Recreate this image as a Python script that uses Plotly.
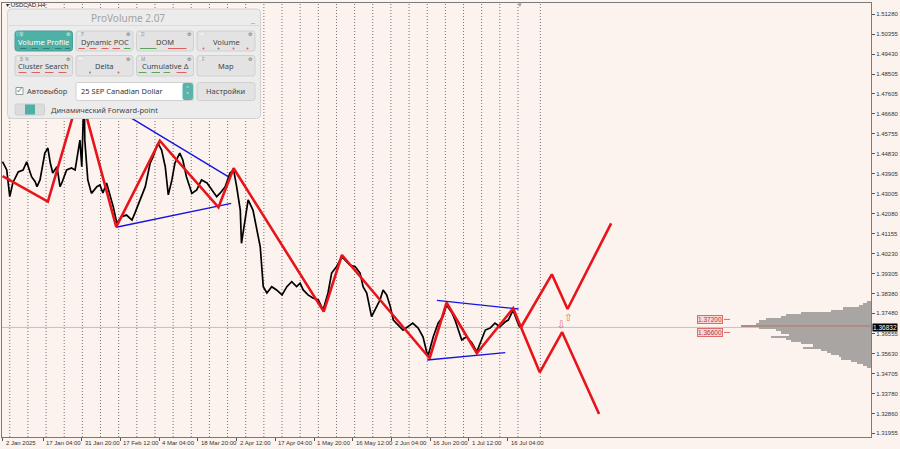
import plotly.graph_objects as go

# ---------------- data (H4 bar index since 2 Jan 2025, price) ----------------
bars = [0, 7, 12, 17, 26, 34, 40, 48, 54, 57, 62, 70, 75, 79, 83, 90, 95, 98, 106, 114, 120, 125, 128, 131, 134, 135,
        136, 141, 147, 156, 161, 166, 172, 178, 183, 189, 197, 205, 214, 219, 227, 236, 244, 249, 257, 263, 269, 274,
        280, 285, 293, 298, 304, 313, 321, 329, 338, 346, 354, 360, 368, 376, 382, 387, 393, 395, 401, 406, 414, 420,
        426, 431, 437, 445, 453, 462, 470, 478, 486, 492, 497, 505, 513, 522, 530, 538, 544, 552, 561, 566, 574, 583,
        591, 596, 602, 610, 616, 624, 629, 635, 641, 646, 654, 662, 670, 678, 687, 695, 703, 712, 720, 728, 734, 743,
        748, 753, 759, 767, 776, 784, 792, 798, 806, 814, 822, 831, 836, 844, 850, 855]
close = [1.4447, 1.4409, 1.4286, 1.4349, 1.4400, 1.4409, 1.4447, 1.4378, 1.4355, 1.4332, 1.4363, 1.4487, 1.4510,
         1.4441, 1.4395, 1.4424, 1.4332, 1.4349, 1.4409, 1.4418, 1.4409, 1.4501, 1.4547, 1.4424, 1.4639, 1.4787,
         1.4547, 1.4363, 1.4301, 1.4332, 1.4340, 1.4303, 1.4349, 1.4294, 1.4240, 1.4164, 1.4194, 1.4201, 1.4178,
         1.4211, 1.4271, 1.4332, 1.4441, 1.4470, 1.4533, 1.4501, 1.4424, 1.4294, 1.4363, 1.4441, 1.4487, 1.4455,
         1.4378, 1.4301, 1.4317, 1.4363, 1.4349, 1.4317, 1.4286, 1.4303, 1.4332, 1.4395, 1.4409, 1.4332, 1.4224,
         1.4071, 1.4178, 1.4271, 1.4224, 1.4147, 1.4055, 1.3871, 1.3842, 1.3871, 1.3856, 1.3833, 1.3871, 1.3894,
         1.3871, 1.3887, 1.3856, 1.3833, 1.3819, 1.3810, 1.3763, 1.3842, 1.3934, 1.3963, 1.4009, 1.3994, 1.3971,
         1.3963, 1.3934, 1.3871, 1.3842, 1.3733, 1.3763, 1.3810, 1.3856, 1.3833, 1.3779, 1.3717, 1.3694, 1.3671,
         1.3686, 1.3703, 1.3680, 1.3640, 1.3548, 1.3640, 1.3703, 1.3733, 1.3786, 1.3750, 1.3717, 1.3671, 1.3625,
         1.3640, 1.3611, 1.3571, 1.3625, 1.3671, 1.3680, 1.3703, 1.3686, 1.3709, 1.3717, 1.3763, 1.3717, 1.3683]

zz_bars = [0, 75, 128, 188, 260, 357, 382, 531, 561, 706, 734, 784, 844, 857]
zz_price = [1.4381, 1.4263, 1.4768, 1.4147, 1.4544, 1.4237, 1.4417, 1.3756, 1.4017, 1.3541, 1.3797, 1.3564, 1.3771, 1.3684]

up_bars = [857, 908, 934, 1006]
up_price = [1.3684, 1.3928, 1.3768, 1.4163]
dn_bars = [857, 888, 925, 986]
dn_price = [1.3684, 1.3476, 1.3661, 1.3284]

blue_lines = {
    "tri1_top": ([161, 373], [1.4736, 1.4378]),
    "tri1_bot": ([188, 378], [1.4145, 1.4255]),
    "tri2_top": ([718, 853], [1.3808, 1.3768]),
    "tri2_bot": ([702, 831], [1.3533, 1.3567]),
}

vp_price = [1.3800, 1.3790, 1.3780, 1.3770, 1.3760, 1.3750, 1.3740, 1.3730, 1.3720, 1.3710, 1.3700, 1.3690,
            1.3680, 1.3670, 1.3660, 1.3650, 1.3640, 1.3630, 1.3620, 1.3610, 1.3600, 1.3590, 1.3580, 1.3570,
            1.3560, 1.3550, 1.3540, 1.3530, 1.3520, 1.3510, 1.3500]
vp_volume = [5, 9, 14, 32, 46, 81, 98, 104, 121, 129, 132, 150, 129, 109, 104, 94, 115, 98, 92, 81, 67, 78, 58,
             51, 46, 37, 35, 23, 16, 9, 5]

y_ticks = [1.51280, 1.50355, 1.49430, 1.48505, 1.47605, 1.46680, 1.45755, 1.44830, 1.43905, 1.43005, 1.42080,
           1.41155, 1.40230, 1.39305, 1.38380, 1.37480, 1.36555, 1.35630, 1.34705, 1.33780, 1.32860, 1.31955]
x_label_bars = [0, 67, 131, 195, 259, 323, 387, 451, 515, 579, 643, 707, 771, 835]
x_labels = ["2 Jan 2025", "17 Jan 04:00", "31 Jan 20:00", "17 Feb 12:00", "4 Mar 04:00", "18 Mar 20:00",
            "2 Apr 12:00", "17 Apr 04:00", "1 May 20:00", "16 May 12:00", "2 Jun 04:00", "16 Jun 20:00",
            "1 Jul 12:00", "16 Jul 04:00"]
week_sep_bars = [12 + 30 * k for k in range(29)] + [889]

bid_price = 1.36832
level_labels = [1.37200, 1.36600]

# ---------------- layout helpers ----------------
W, H = 900, 449
ML, MR, MT, MB = 2, 29, 3, 12
PW, PH = W - ML - MR, H - MT - MB
BG = "#fdf3ee"
MTFONT = "Liberation Sans"
PVFONT = "Noto Sans"


def PX(x):
    return (x - ML) / PW


def PY(y):
    return (H - MB - y) / PH


def rrect(x0, y0, x1, y1, r):
    return (f"M{PX(x0 + r)},{PY(y0)} L{PX(x1 - r)},{PY(y0)} Q{PX(x1)},{PY(y0)} {PX(x1)},{PY(y0 + r)} "
            f"L{PX(x1)},{PY(y1 - r)} Q{PX(x1)},{PY(y1)} {PX(x1 - r)},{PY(y1)} "
            f"L{PX(x0 + r)},{PY(y1)} Q{PX(x0)},{PY(y1)} {PX(x0)},{PY(y1 - r)} "
            f"L{PX(x0)},{PY(y0 + r)} Q{PX(x0)},{PY(y0)} {PX(x0 + r)},{PY(y0)} Z")


shapes = []
annos = []


def txt(x, y, text, size, color, family=None, xanchor="center", yanchor="middle", xref="paper", yref="paper", **kw):
    annos.append(dict(x=x, y=y, xref=xref, yref=yref, text=text, showarrow=False, xanchor=xanchor,
                      yanchor=yanchor, font=dict(family=family or PVFONT, size=size, color=color), **kw))


# week separators
for b in week_sep_bars:
    shapes.append(dict(type="line", xref="x", yref="paper", x0=b, x1=b, y0=0, y1=1,
                       line=dict(color="#747474", width=1, dash="1px,2px"), layer="below"))
# bid line
shapes.append(dict(type="line", xref="paper", yref="y", x0=0, x1=1, y0=bid_price, y1=bid_price,
                   line=dict(color="#c9bfba", width=1), layer="below"))

fig = go.Figure()

# volume profile
vmax = max(vp_volume)
fig.add_trace(go.Bar(y=vp_price, x=vp_volume, orientation="h", xaxis="x2", yaxis="y", width=0.00102,
                     marker=dict(color=["#b08c86" if v == vmax else "#a9a5a2" for v in vp_volume], line=dict(width=0)),
                     hoverinfo="skip", showlegend=False))

fig.add_trace(go.Scatter(x=bars, y=close, mode="lines", line=dict(color="#000000", width=1.7), showlegend=False,
                         hoverinfo="skip"))

for name, (bx, py) in blue_lines.items():
    fig.add_trace(go.Scatter(x=bx, y=py, mode="lines", line=dict(color="#1414e0", width=1.4), showlegend=False,
                             hoverinfo="skip"))

for bx, py in [(zz_bars, zz_price), (up_bars, up_price), (dn_bars, dn_price)]:
    fig.add_trace(go.Scatter(x=bx, y=py, mode="lines", line=dict(color="#e8131b", width=2.6), showlegend=False,
                             hoverinfo="skip"))

# arrows
txt(934, 1.3729, "⇧", 10, "#e36a6a", "DejaVu Sans", xref="x", yref="y")
txt(923, 1.3697, "⇩", 10, "#e36a6a", "DejaVu Sans", xref="x", yref="y")

# level labels
for lv in level_labels:
    txt(PX(697), lv, f"{lv:.5f}", 6.5, "#b83232", MTFONT, xanchor="left", yref="y",
        bgcolor="#f8d9d6", bordercolor="#dd6b6b", borderwidth=1, borderpad=0)
    shapes.append(dict(type="line", xref="paper", yref="y", x0=PX(724), x1=PX(730), y0=lv, y1=lv,
                       line=dict(color="#dd6b6b", width=1)))

# current price label
txt(1, bid_price, "1.36832", 6.5, "#ffffff", MTFONT, xanchor="left", yref="y", xshift=1,
    bgcolor="#000000", borderpad=0)

# x labels
for b, t in zip(x_label_bars, x_labels):
    txt(b, PY(442.5), t, 6, "#333333", MTFONT, xanchor="left", xref="x", xshift=1)

# symbol title
txt(PX(4), PY(5.5), "▾ USDCAD,H4", 6, "#222222", MTFONT, xanchor="left")
txt(856, PY(4.5), "▾", 7, "#9a9a9a", MTFONT, xref="x")

# ---------------- ProVolume panel ----------------
shapes.append(dict(type="path", xref="paper", yref="paper", path=rrect(7.5, 9, 260.5, 118.5, 4),
                   fillcolor="#ececec", line=dict(color="#d2d2d2", width=1)))
shapes.append(dict(type="line", xref="paper", yref="paper", x0=PX(9), x1=PX(259), y0=PY(25.5), y1=PY(25.5),
                   line=dict(color="#dadada", width=1)))
txt(PX(128), PY(17.5), "ProVolume 2.07", 10, "#a2a2a2")
txt(PX(252.5), PY(18), "_", 9, "#a0a0a0")

buttons = [
    ("Volume Profile", 15, 72.5, 31, 51, "V"),
    ("Dynamic POC", 76, 133, 31, 51, "P"),
    ("DOM", 136.5, 193.5, 31, 51, "D"),
    ("Volume", 197, 255, 31, 51, ""),
    ("Cluster Search", 15, 72.5, 55.5, 76, "B  N"),
    ("Delta", 76, 133, 55.5, 76, ""),
    ("Cumulative Δ", 136.5, 193.5, 55.5, 76, "M"),
    ("Map", 197, 255, 55.5, 76, "F"),
]
for lbl, x0, x1, y0, y1, tag in buttons:
    active = lbl == "Volume Profile"
    shapes.append(dict(type="path", xref="paper", yref="paper", path=rrect(x0, y0, x1, y1, 2.5),
                       fillcolor="#4fb0a6" if active else "#e3e3e3",
                       line=dict(color="#46a197" if active else "#d0d0d0", width=1)))
    shapes.append(dict(type="rect", xref="paper", yref="paper", x0=PX(x0 + 1.5), x1=PX(x0 + 8), y0=PY(y0 + 5),
                       y1=PY(y0 + 1), fillcolor="#5fbbb1" if active else "#ebebeb",
                       line=dict(color="#7cc8c0" if active else "#d6d6d6", width=0.6)))
    txt(PX((x0 + x1) / 2), PY(y0 + 10.5), lbl, 7.5, "#ffffff" if active else "#454545")
    if tag:
        txt(PX(x0 + 2.5), PY(y0 + 3), tag, 4.5, "#e8f4f2" if active else "#8a8a8a", xanchor="left")
    txt(PX(x1 - 4.5), PY(y0 + 3), "⚙", 5, "#f0f0f0" if active else "#6a6a6a", "DejaVu Sans")

dash_specs = [
    (20, 26.5, 48.5, "#2f7f77"), (31.5, 38, 48.5, "#2f7f77"), (43, 49.5, 48.5, "#2f7f77"), (55, 61.5, 48.5, "#2f7f77"),
    (65, 70, 48.5, "#2f7f77"),
    (78.5, 85, 48.5, "#e06060"), (89.5, 96.5, 48.5, "#e06060"), (101.5, 108.5, 48.5, "#e06060"),
    (112.5, 120, 48.5, "#e06060"), (124, 130.5, 48.5, "#5aa55a"),
    (140, 156.5, 48.5, "#5aa55a"), (168, 186.5, 48.5, "#e06060"),
    (18.5, 26.5, 72.5, "#e06060"), (31.5, 40, 72.5, "#e06060"), (45, 53.5, 72.5, "#e06060"), (58.5, 66.5, 72.5, "#e06060"),
    (138.5, 146.5, 72.5, "#5aa55a"), (151.5, 160, 72.5, "#5aa55a"), (163.5, 170, 72.5, "#5aa55a"),
    (176.5, 186.5, 72.5, "#e06060"),
]
for x0, x1, y, c in dash_specs:
    shapes.append(dict(type="line", xref="paper", yref="paper", x0=PX(x0), x1=PX(x1), y0=PY(y), y1=PY(y),
                       line=dict(color=c, width=1)))
for x, c, y in [(203.5, "#e06060", 48.5), (218.5, "#5aa55a", 48.5), (233.5, "#e06060", 48.5), (247.5, "#e06060", 48.5),
                (90, "#5aa55a", 72.5), (118.5, "#e06060", 72.5)]:
    shapes.append(dict(type="circle", xref="paper", yref="paper", x0=PX(x - 1), x1=PX(x + 1), y0=PY(y - 1),
                       y1=PY(y + 1), fillcolor=c, line=dict(width=0)))

# checkbox
shapes.append(dict(type="rect", xref="paper", yref="paper", x0=PX(16), x1=PX(23), y0=PY(94.5), y1=PY(87.5),
                   fillcolor="#ffffff", line=dict(color="#9a9a9a", width=1)))
txt(PX(19.8), PY(89.8), "✓", 9, "#3aa79b", "DejaVu Sans")
txt(PX(25), PY(90.5), "Автовыбор", 7.5, "#454545", xanchor="left")
# dropdown
shapes.append(dict(type="path", xref="paper", yref="paper", path=rrect(76, 82.5, 193.5, 100.5, 2),
                   fillcolor="#ffffff", line=dict(color="#d0d0d0", width=1)))
shapes.append(dict(type="path", xref="paper", yref="paper", path=rrect(182.5, 83, 193, 100, 2),
                   fillcolor="#5ab4aa", line=dict(width=0)))
txt(PX(187.8), PY(88.5), "˄", 6, "#ffffff", "DejaVu Sans")
txt(PX(187.8), PY(94.5), "˅", 6, "#ffffff", "DejaVu Sans")
txt(PX(79), PY(91.5), "25 SEP Canadian Dollar", 7.5, "#333333", xanchor="left")
shapes.append(dict(type="path", xref="paper", yref="paper", path=rrect(197, 82.5, 255, 100.5, 2.5),
                   fillcolor="#e3e3e3", line=dict(color="#d0d0d0", width=1)))
txt(PX(226), PY(91.5), "Настройки", 7.5, "#454545")
# toggle
shapes.append(dict(type="path", xref="paper", yref="paper", path=rrect(15, 104, 44.5, 115, 2),
                   fillcolor="#dcdcdc", line=dict(color="#d0d0d0", width=1)))
shapes.append(dict(type="rect", xref="paper", yref="paper", x0=PX(25), x1=PX(35), y0=PY(114.5), y1=PY(104.5),
                   fillcolor="#4fb0a6", line=dict(width=0)))
txt(PX(49), PY(109.5), "Динамический Forward-point", 7.5, "#454545", xanchor="left")

fig.update_layout(
    width=W, height=H, margin=dict(l=ML, r=MR, t=MT, b=MB, autoexpand=False),
    paper_bgcolor=BG, plot_bgcolor=BG, showlegend=False, bargap=0, hovermode=False,
    xaxis=dict(range=[-0.83, 1435.5], showgrid=False, zeroline=False, showline=True, mirror=True,
               linecolor="#7a7a7a", linewidth=1, tickvals=x_label_bars, ticks="outside", ticklen=3,
               tickcolor="#555555", showticklabels=False, fixedrange=True),
    xaxis2=dict(range=[1000, 0], overlaying="x", visible=False, showgrid=False, zeroline=False),
    yaxis=dict(range=[1.317797, 1.517871], side="right", showgrid=False, zeroline=False, showline=True, mirror=True,
               linecolor="#7a7a7a", linewidth=1, tickvals=y_ticks, ticktext=[f"{v:.5f}" for v in y_ticks],
               ticks="outside", ticklen=3, tickcolor="#555555", fixedrange=True,
               tickfont=dict(family=MTFONT, size=6, color="#333333")),
    shapes=shapes, annotations=annos,
)

fig.write_html("out.html", config={"displayModeBar": False},
               post_script="document.body.style.margin='0';document.body.style.background='" + BG + "';")
